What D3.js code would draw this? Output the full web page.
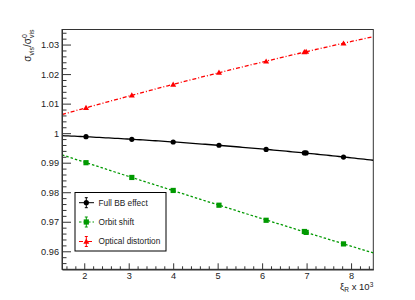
<!DOCTYPE html>
<html>
<head>
<meta charset="utf-8">
<script src="https://cdn.jsdelivr.net/npm/d3@7"></script>
<style>
  html, body { margin: 0; padding: 0; background: #fff; }
  svg { display: block; font-family: "Liberation Sans", Arial, sans-serif; }
</style>
</head>
<body>
<svg id="chart" width="415" height="300"></svg>
<script>
// ---- data ----
const xValues     = [2.04, 3.07, 4.00, 5.03, 6.09, 6.95, 6.99, 7.83];
const fullBB      = [0.9988, 0.9979, 0.9970, 0.9959, 0.9945, 0.9933, 0.9933, 0.9919];
const orbitShift  = [0.9900, 0.9850, 0.9806, 0.9756, 0.9705, 0.9667, 0.9664, 0.9625];
const opticalDist = [1.0086, 1.0128, 1.0165, 1.0205, 1.0243, 1.0275, 1.0276, 1.0304];
const seriesNames = ["Full BB effect", "Orbit shift", "Optical distortion"];
const xTicks = [2, 3, 4, 5, 6, 7, 8];
const xTickLabels = ["2", "3", "4", "5", "6", "7", "8"];
const yTicks = [0.96, 0.97, 0.98, 0.99, 1.00, 1.01, 1.02, 1.03];
const yTickLabels = ["0.96", "0.97", "0.98", "0.99", "1", "1.01", "1.02", "1.03"];
const xDomain = [1.5, 8.5];
const yDomain = [0.9539, 1.0351];

// ---- layout ----
const svg = d3.select("#chart");
const L = 62, R = 373.3, T = 29.5, B = 269.3;
const x = d3.scaleLinear().domain(xDomain).range([L, R]);
const y = d3.scaleLinear().domain(yDomain).range([B, T]);

const styles = [
  { color: "#000000", dash: null, marker: "circle" },
  { color: "#009900", dash: "2.5,2", marker: "square" },
  { color: "#ff0000", dash: "4,2,1,2", marker: "triangle" }
];
const allSeries = [fullBB, orbitShift, opticalDist];

// quadratic least-squares fit of each series
function quadFit(xs, ys) {
  const S = [0,0,0,0,0], Sy = [0,0,0];
  xs.forEach((xv, i) => {
    for (let k = 0; k < 5; k++) S[k] += Math.pow(xv, k);
    for (let k = 0; k < 3; k++) Sy[k] += ys[i] * Math.pow(xv, k);
  });
  const A = [[S[0],S[1],S[2],Sy[0]],[S[1],S[2],S[3],Sy[1]],[S[2],S[3],S[4],Sy[2]]];
  for (let i = 0; i < 3; i++) {
    for (let j = i + 1; j < 3; j++) {
      const f = A[j][i] / A[i][i];
      for (let k = i; k < 4; k++) A[j][k] -= f * A[i][k];
    }
  }
  const c = [0,0,0];
  for (let i = 2; i >= 0; i--) {
    let s = A[i][3];
    for (let k = i + 1; k < 3; k++) s -= A[i][k] * c[k];
    c[i] = s / A[i][i];
  }
  return xv => c[0] + c[1]*xv + c[2]*xv*xv;
}

// frame
svg.append("rect").attr("x", L).attr("y", T).attr("width", R - L).attr("height", B - T)
  .attr("fill", "none").attr("stroke", "#333").attr("stroke-width", 1);

// fit lines
svg.append("clipPath").attr("id", "clip").append("rect")
  .attr("x", L).attr("y", T).attr("width", R - L).attr("height", B - T);
const sampleX = d3.range(0, 101).map(i => xDomain[0] + (xDomain[1] - xDomain[0]) * i / 100);
allSeries.forEach((ys, si) => {
  const f = quadFit(xValues, ys);
  const line = d3.line().x(d => x(d)).y(d => y(f(d)));
  svg.append("path").attr("d", line(sampleX)).attr("clip-path", "url(#clip)")
    .attr("fill", "none").attr("stroke", styles[si].color).attr("stroke-width", 1.3)
    .attr("stroke-dasharray", styles[si].dash);
});

// markers
function drawMarker(g, type, cx, cy, color) {
  if (type === "circle") {
    g.append("circle").attr("cx", cx).attr("cy", cy).attr("r", 2.6).attr("fill", color);
  } else if (type === "square") {
    g.append("rect").attr("x", cx - 2.6).attr("y", cy - 2.6).attr("width", 5.2).attr("height", 5.2).attr("fill", color);
  } else {
    g.append("path").attr("d", `M${cx},${cy - 3}L${cx + 3},${cy + 2.2}L${cx - 3},${cy + 2.2}Z`).attr("fill", color);
  }
}
const markG = svg.append("g");
allSeries.forEach((ys, si) => {
  ys.forEach((v, i) => drawMarker(markG, styles[si].marker, x(xValues[i]), y(v), styles[si].color));
});

// axes
const xAxis = d3.axisBottom(x).tickValues(xTicks).tickFormat((d, i) => xTickLabels[i])
  .tickSizeInner(-6).tickSizeOuter(0).tickPadding(3.3);
const xMinor = d3.axisBottom(x).tickValues(d3.range(16, 85, 2).map(v => v / 10).filter(v => !xTicks.includes(v)))
  .tickFormat("").tickSizeInner(-3).tickSizeOuter(0);
const yAxis = d3.axisLeft(y).tickValues(yTicks).tickFormat((d, i) => yTickLabels[i])
  .tickSizeInner(-9).tickSizeOuter(0).tickPadding(3);
const yMinor = d3.axisLeft(y).tickValues(d3.range(9540, 10351, 20).map(v => v / 10000).filter(v => !yTicks.some(t => Math.abs(t - v) < 1e-6)))
  .tickFormat("").tickSizeInner(-4.5).tickSizeOuter(0);

function styleAxis(g) {
  g.selectAll("path.domain").attr("stroke", "#333");
  g.selectAll(".tick line").attr("stroke", "#333");
  g.selectAll(".tick text").attr("fill", "#222").style("font-size", "9.2px")
    .style("font-family", "'Liberation Sans', Arial, sans-serif");
}
svg.append("g").attr("transform", `translate(0,${B})`).call(xMinor).call(styleAxis);
svg.append("g").attr("transform", `translate(0,${B})`).call(xAxis).call(styleAxis);
svg.append("g").attr("transform", `translate(${L},0)`).call(yMinor).call(styleAxis);
svg.append("g").attr("transform", `translate(${L},0)`).call(yAxis).call(styleAxis);

// x axis title: xi_R x 10^3
const xt = svg.append("text").attr("x", R).attr("y", 289.5).attr("text-anchor", "end")
  .attr("fill", "#222").style("font-size", "9.5px");
xt.append("tspan").text("ξ");
xt.append("tspan").attr("dy", 2.5).style("font-size", "6.5px").text("R");
xt.append("tspan").attr("dy", -2.5).text(" x 10");
xt.append("tspan").attr("dy", -3).style("font-size", "6.5px").text("3");

// y axis title: sigma_vis / sigma^0_vis (rotated)
const yg = svg.append("g").attr("transform", `translate(31,${T}) rotate(-90)`);
const yt = yg.append("text").attr("x", 0).attr("y", 0).attr("fill", "#222").style("font-size", "10px");
yt.append("tspan").text("σ");
yt.append("tspan").attr("dy", 2.5).style("font-size", "7px").text("vis");
yt.append("tspan").attr("dy", -2.5).text("/σ");
yt.append("tspan").attr("dy", 2.5).style("font-size", "7px").text("vis");
const nChars = "σvis/σ".length;
const subStart = yt.node().getStartPositionOfChar(nChars).x;
const totalW = yt.node().getComputedTextLength();
yt.attr("x", -totalW);
yg.append("text").attr("x", -totalW + subStart).attr("y", -4.5).attr("fill", "#222")
  .style("font-size", "7px").text("0");

// legend
const lg = svg.append("g");
const lx0 = 75, ly0 = 192.5, lx1 = 166, ly1 = 251;
lg.append("rect").attr("x", lx0).attr("y", ly0).attr("width", lx1 - lx0).attr("height", ly1 - ly0)
  .attr("fill", "#fff").attr("stroke", "#000").attr("stroke-width", 1);
const entryY = [202.7, 222, 241.5];
seriesNames.forEach((name, i) => {
  const ey = entryY[i], mx = 86.3, c = styles[i].color;
  lg.append("line").attr("x1", 79).attr("x2", 94).attr("y1", ey).attr("y2", ey)
    .attr("stroke", c).attr("stroke-width", 1).attr("stroke-dasharray", styles[i].dash);
  lg.append("line").attr("x1", mx).attr("x2", mx).attr("y1", ey - 5).attr("y2", ey + 5).attr("stroke", c);
  lg.append("line").attr("x1", mx - 1.5).attr("x2", mx + 1.5).attr("y1", ey - 5).attr("y2", ey - 5).attr("stroke", c);
  lg.append("line").attr("x1", mx - 1.5).attr("x2", mx + 1.5).attr("y1", ey + 5).attr("y2", ey + 5).attr("stroke", c);
  drawMarker(lg, styles[i].marker, mx, ey, c);
  lg.append("text").attr("x", 98.5).attr("y", ey).attr("dy", "0.35em").attr("fill", "#222")
    .style("font-size", "8.3px").text(name);
});
</script>
</body>
</html>
